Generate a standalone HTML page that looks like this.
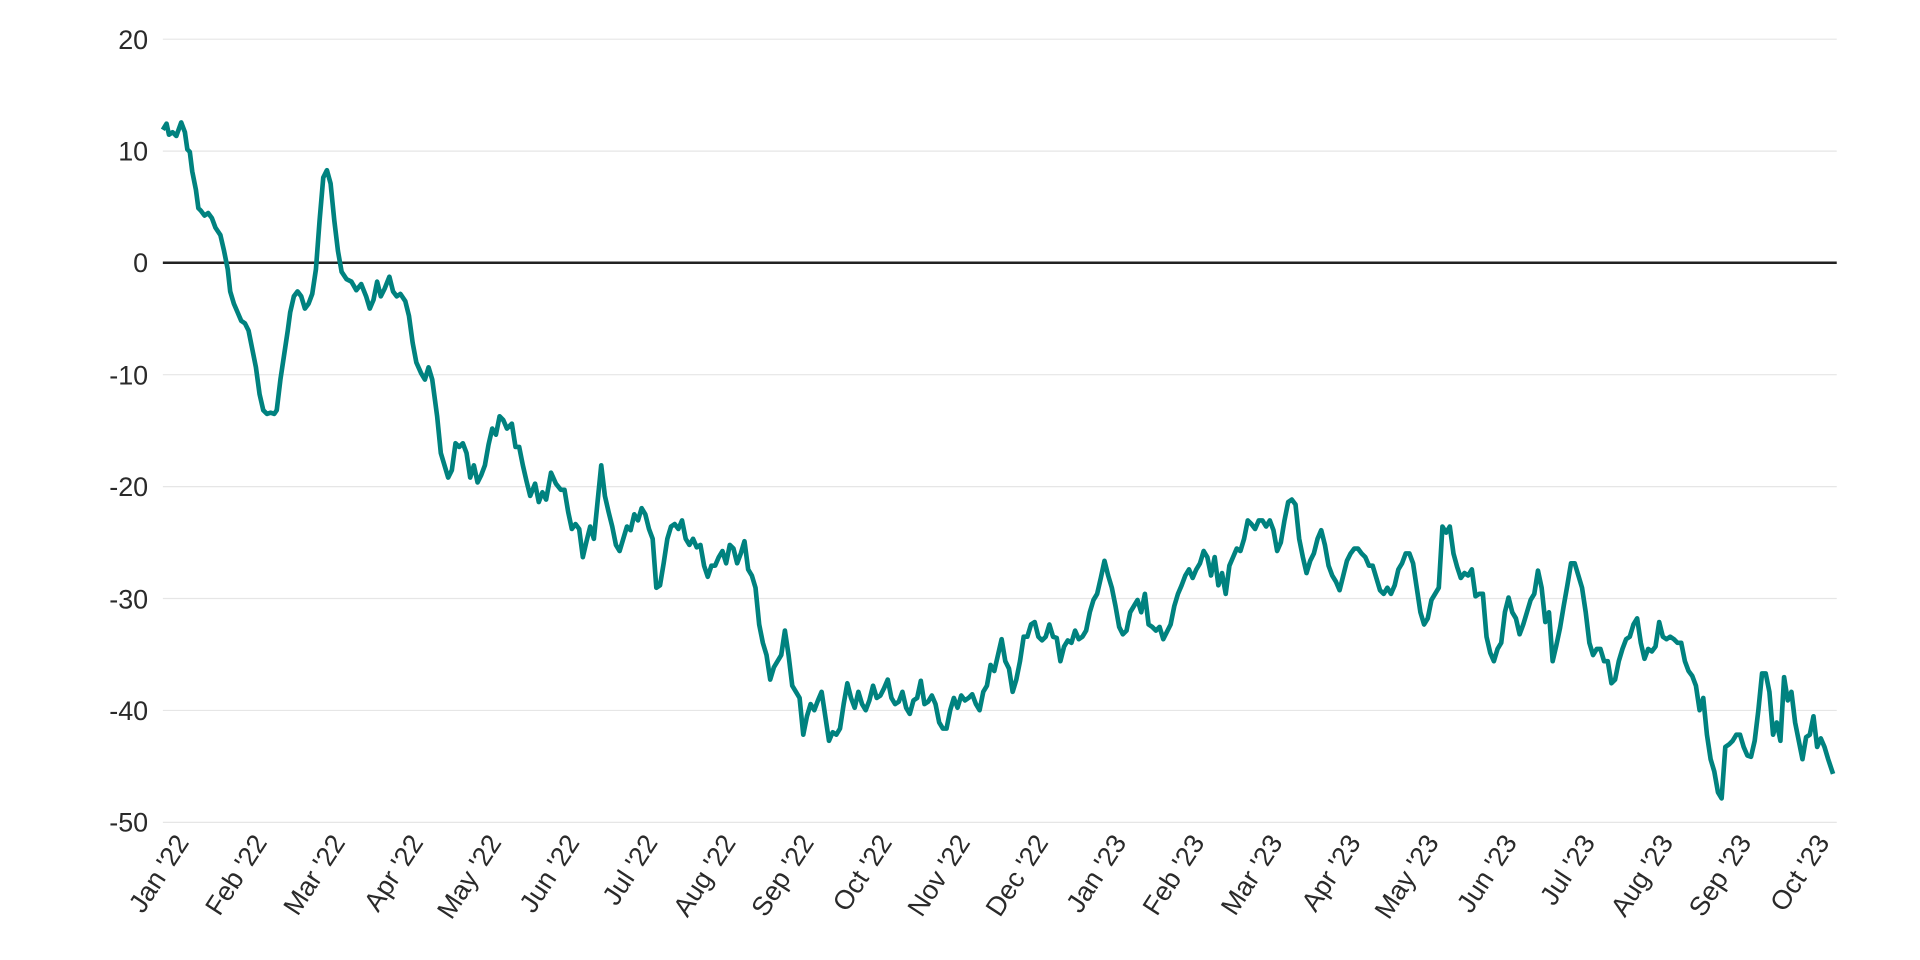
<!DOCTYPE html>
<html><head><meta charset="utf-8"><style>html,body{margin:0;padding:0;background:#fff;}svg{display:block}</style></head>
<body>
<svg width="1920" height="960" viewBox="0 0 1568 784" xmlns="http://www.w3.org/2000/svg" font-family="Liberation Sans, sans-serif">
<g stroke="#e6e6e6" stroke-width="1">
<line x1="133" x2="1500" y1="32" y2="32"/><line x1="133" x2="1500" y1="123.4" y2="123.4"/>
<line x1="133" x2="1500" y1="306" y2="306"/><line x1="133" x2="1500" y1="397.4" y2="397.4"/>
<line x1="133" x2="1500" y1="488.8" y2="488.8"/><line x1="133" x2="1500" y1="580.2" y2="580.2"/>
<line x1="133" x2="1500" y1="671.6" y2="671.6"/>
</g>
<line x1="133" x2="1500" y1="214.6" y2="214.6" stroke="#222" stroke-width="2"/>
<g font-size="22" fill="#2a2a2a" text-anchor="end">
<text x="121" y="40">20</text><text x="121" y="131">10</text><text x="121" y="222">0</text>
<text x="121" y="314">-10</text><text x="121" y="405">-20</text><text x="121" y="497">-30</text>
<text x="121" y="588">-40</text><text x="121" y="679">-50</text>
</g>
<polyline fill="none" stroke="#00827f" stroke-width="3.8" stroke-linejoin="round" points="133,106 136,101 138,110 141,108 144,111 148,100 151,108 153,122 155,124 157,140 160,155 162,170 164,172 167,176 170,174 173,178 176,186 180,192 183,205 186,220 188,238 191,248 194,255 197,262 200,264 203,270 206,285 209,300 212,322 215,335 218,338 221,337 224,338 226,335 229,310 232,290 235,270 237,255 240,242 243,238 246,242 249,252 252,248 255,240 258,220 261,180 264,145 267,139 270,150 273,180 276,205 279,222 283,228 287,230 291,237 295,232 299,242 302,252 305,245 308,230 311,242 314,236 318,226 321,238 324,242 327,240 331,246 334,258 337,280 340,296 344,305 347,310 350,300 353,310 357,340 360,370 363,380 366,390 369,384 372,362 375,365 378,362 381,370 384,390 387,380 390,394 393,388 396,380 399,363 402,350 405,355 408,340 411,343 414,350 418,346 421,365 424,365 427,380 430,393 433,405 437,395 440,410 443,402 446,408 450,386 454,395 458,400 461,400 464,418 467,432 470,428 473,432 476,455 479,442 482,430 485,440 488,410 491,380 494,405 497,418 500,430 503,445 506,450 509,440 512,430 515,433 518,420 521,425 524,415 527,420 530,432 533,440 536,480 539,478 542,460 545,440 548,430 551,428 554,432 557,425 560,440 563,445 566,440 569,447 572,445 575,462 578,471 581,462 584,462 587,455 590,450 593,460 596,445 599,448 602,460 605,452 608,442 611,465 614,470 617,480 620,510 623,525 626,535 629,555 632,545 635,540 638,535 641,515 644,535 647,560 650,565 653,570 656,600 659,585 662,575 665,580 668,572 671,565 674,585 677,605 680,598 683,600 686,595 689,575 692,558 695,570 698,578 701,565 704,575 707,580 710,572 713,560 716,570 719,568 722,562 725,555 728,570 731,575 734,573 737,565 740,578 743,583 746,572 749,570 752,556 755,575 758,573 761,568 764,575 767,590 770,595 773,595 776,580 779,570 782,578 785,568 788,572 791,570 794,567 797,575 800,580 803,565 806,560 809,543 812,548 815,535 818,522 821,540 824,546 827,565 830,555 833,540 836,520 839,520 842,510 845,508 848,520 851,523 854,520 857,510 860,520 863,521 866,540 869,528 872,523 875,525 878,515 881,522 884,520 887,515 890,500 893,490 896,485 899,472 902,458 905,470 908,480 911,495 914,512 917,518 920,515 923,500 926,495 929,490 932,500 935,485 938,510 941,512 944,515 947,512 950,522 953,516 956,510 959,495 962,485 965,478 968,470 971,465 974,472 977,465 980,460 983,450 986,455 989,470 992,455 995,478 998,468 1001,485 1004,462 1007,455 1010,448 1013,450 1016,440 1019,425 1022,428 1025,432 1028,425 1031,425 1034,430 1037,425 1040,433 1043,450 1046,443 1049,425 1052,410 1055,408 1058,412 1061,440 1064,455 1067,468 1070,458 1073,452 1076,440 1079,433 1082,445 1085,462 1088,470 1091,475 1094,482 1097,470 1100,458 1103,452 1106,448 1109,448 1112,452 1115,455 1118,462 1121,462 1124,472 1127,482 1130,485 1133,480 1136,485 1139,478 1142,465 1145,460 1148,452 1151,452 1154,460 1157,480 1160,500 1163,510 1166,505 1169,490 1172,485 1175,480 1178,430 1181,435 1184,430 1187,452 1190,463 1193,472 1196,468 1199,470 1202,465 1205,487 1208,485 1211,485 1214,520 1217,533 1220,540 1223,530 1226,525 1229,500 1232,488 1235,500 1238,505 1241,518 1244,510 1247,500 1250,490 1253,485 1256,466 1259,480 1262,508 1265,500 1268,540 1271,527 1274,513 1277,495 1280,478 1283,460 1286,460 1289,470 1292,480 1295,500 1298,525 1301,535 1304,530 1307,530 1310,540 1313,540 1316,558 1319,555 1322,540 1325,530 1328,522 1331,520 1334,510 1337,505 1340,525 1343,538 1346,530 1349,532 1352,528 1355,508 1358,520 1361,522 1364,520 1367,522 1370,525 1373,525 1376,540 1379,548 1382,552 1385,560 1388,580 1391,570 1394,600 1397,620 1400,630 1403,647 1406,652 1409,610 1412,608 1415,605 1418,600 1421,600 1424,610 1427,617 1430,618 1433,605 1436,580 1439,550 1442,550 1445,565 1448,600 1451,590 1454,605 1457,553 1460,572 1463,565 1466,590 1469,605 1472,620 1475,602 1478,600 1481,585 1484,610 1487,603 1490,610 1493,620 1497,632"/>
<g font-size="22" fill="#2a2a2a" text-anchor="end">
<text transform="translate(155,688) rotate(-57)">Jan '22</text>
<text transform="translate(218.8,688) rotate(-57)">Feb '22</text>
<text transform="translate(282.6,688) rotate(-57)">Mar '22</text>
<text transform="translate(346.4,688) rotate(-57)">Apr '22</text>
<text transform="translate(410.2,688) rotate(-57)">May '22</text>
<text transform="translate(474,688) rotate(-57)">Jun '22</text>
<text transform="translate(537.8,688) rotate(-57)">Jul '22</text>
<text transform="translate(601.6,688) rotate(-57)">Aug '22</text>
<text transform="translate(665.4,688) rotate(-57)">Sep '22</text>
<text transform="translate(729.2,688) rotate(-57)">Oct '22</text>
<text transform="translate(793,688) rotate(-57)">Nov '22</text>
<text transform="translate(856.8,688) rotate(-57)">Dec '22</text>
<text transform="translate(920.6,688) rotate(-57)">Jan '23</text>
<text transform="translate(984.4,688) rotate(-57)">Feb '23</text>
<text transform="translate(1048.2,688) rotate(-57)">Mar '23</text>
<text transform="translate(1112,688) rotate(-57)">Apr '23</text>
<text transform="translate(1175.8,688) rotate(-57)">May '23</text>
<text transform="translate(1239.6,688) rotate(-57)">Jun '23</text>
<text transform="translate(1303.4,688) rotate(-57)">Jul '23</text>
<text transform="translate(1367.2,688) rotate(-57)">Aug '23</text>
<text transform="translate(1431,688) rotate(-57)">Sep '23</text>
<text transform="translate(1494.8,688) rotate(-57)">Oct '23</text>
</g>
</svg>
</body></html>
